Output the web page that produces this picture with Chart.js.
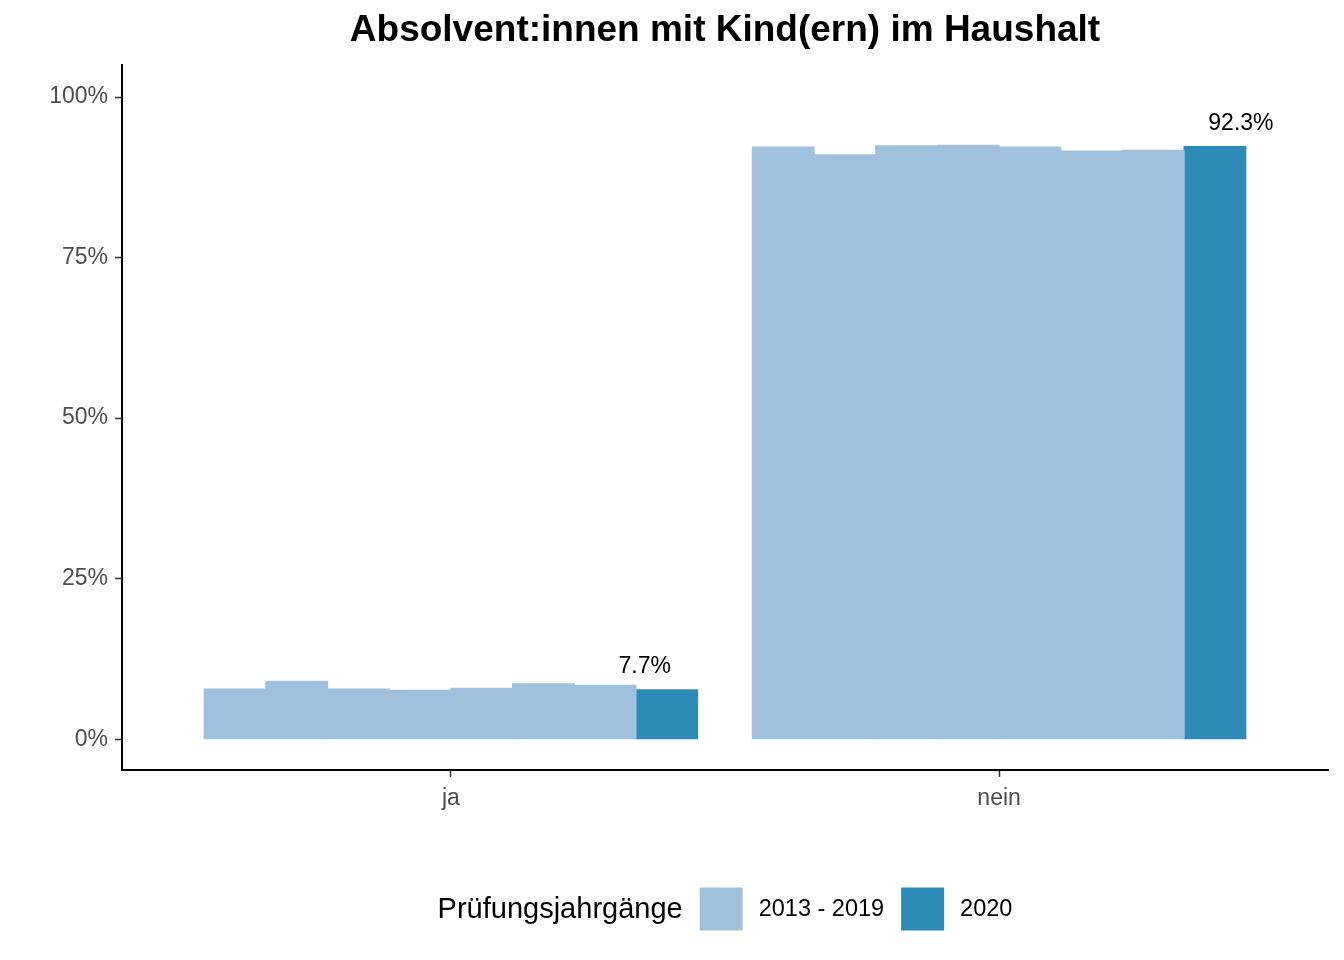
<!DOCTYPE html>
<html lang="de">
<head>
<meta charset="utf-8">
<title>Absolvent:innen mit Kind(ern) im Haushalt</title>
<script src="https://cdn.jsdelivr.net/npm/chart.js@4.4.1/dist/chart.umd.min.js"></script>
<style>
  html, body { margin: 0; padding: 0; background: #fff; }
  #wrap { width: 1344px; height: 960px; }
</style>
</head>
<body>
<div id="wrap"><canvas id="grafico"></canvas></div>
<script>
// Daten
const titel = "Absolvent:innen mit Kind(ern) im Haushalt";
const kategorien = ["ja", "nein"];
const jahrgaenge = ["2013", "2014", "2015", "2016", "2017", "2018", "2019", "2020"];
const anteilJa = [7.8, 9.0, 7.8, 7.6, 7.9, 8.6, 8.4, 7.7];
const anteilNein = [92.2, 91.0, 92.4, 92.5, 92.2, 91.6, 91.7, 92.3];
const yTicks = [0, 25, 50, 75, 100];
const legendeTitel = "Prüfungsjahrgänge";
const legendeEintraege = ["2013 - 2019", "2020"];

const farbeAlt = "#a0c1dd";
const farbeNeu = "#2e8bb8";
const schrift = '"Liberation Sans", Arial, Helvetica, sans-serif';

Chart.defaults.font.family = schrift;

const datasets = jahrgaenge.map((jahr, i) => ({
  label: jahr,
  data: kategorien.map((kat, k) => ({ x: k + 1, y: k === 0 ? anteilJa[i] : anteilNein[i] })),
  backgroundColor: jahr === "2020" ? farbeNeu : farbeAlt,
  borderWidth: 0,
  inflateAmount: 0.6,
  barPercentage: 1,
  categoryPercentage: 0.9
}));

// Titel, Wertlabels und Legende selbst zeichnen
const beschriftung = {
  id: "beschriftung",
  afterDraw(chart) {
    const { ctx, chartArea } = chart;
    const mitte = (chartArea.left + chartArea.right) / 2;
    ctx.save();
    ctx.fillStyle = "#000";
    ctx.textBaseline = "middle";

    ctx.font = `bold 37px ${schrift}`;
    ctx.textAlign = "center";
    ctx.fillText(titel, mitte, 31);

    // Wertlabels nur für 2020
    const letzter = jahrgaenge.length - 1;
    const meta = chart.getDatasetMeta(letzter);
    const versatz = [-22, 26];
    ctx.font = `23px ${schrift}`;
    meta.data.forEach((bar, k) => {
      const wert = chart.data.datasets[letzter].data[k].y;
      ctx.fillText(wert.toFixed(1) + "%", bar.x + versatz[k], bar.y - 23);
    });

    // Legende unten
    const y = 909;
    const box = 43;
    ctx.font = `29px ${schrift}`;
    const titelB = ctx.measureText(legendeTitel).width;
    ctx.font = `23.5px ${schrift}`;
    const b1 = ctx.measureText(legendeEintraege[0]).width;
    const b2 = ctx.measureText(legendeEintraege[1]).width;
    const gesamt = titelB + 17 + box + 16 + b1 + 17 + box + 16 + b2;
    let x = mitte - gesamt / 2;
    ctx.textAlign = "left";
    ctx.font = `29px ${schrift}`;
    ctx.fillText(legendeTitel, x, y + 1);
    x += titelB + 17;
    ctx.font = `23.5px ${schrift}`;
    [farbeAlt, farbeNeu].forEach((farbe, i) => {
      ctx.fillStyle = farbe;
      ctx.fillRect(x, y - box / 2, box, box);
      x += box + 16;
      ctx.fillStyle = "#000";
      ctx.fillText(legendeEintraege[i], x, y + 1);
      x += (i === 0 ? b1 : b2) + 17;
    });
    ctx.restore();
  }
};

const ctx = document.getElementById("grafico").getContext("2d");
new Chart(ctx, {
  type: "bar",
  data: { datasets },
  plugins: [beschriftung],
  options: {
    responsive: true,
    maintainAspectRatio: false,
    animation: false,
    layout: { padding: { top: 65, right: 16, bottom: 140, left: 0 } },
    plugins: {
      legend: { display: false },
      tooltip: { enabled: false },
      title: { display: false }
    },
    scales: {
      x: {
        type: "linear",
        min: 0.4,
        max: 2.6,
        offset: false,
        afterBuildTicks: (scale) => { scale.ticks = kategorien.map((k, i) => ({ value: i + 1 })); },
        afterFit: (scale) => { scale.height = 50; },
        ticks: {
          callback: (v) => kategorien[v - 1],
          color: "#4d4d4d",
          font: { size: 23 },
          padding: 8,
          maxRotation: 0
        },
        grid: { offset: false, drawOnChartArea: false, drawTicks: true, tickLength: 7, tickColor: "#333", tickWidth: 1.5 },
        border: { display: true, color: "#000", width: 2 }
      },
      y: {
        min: -4.8,
        max: 105,
        afterBuildTicks: (scale) => { scale.ticks = yTicks.map(v => ({ value: v })); },
        afterFit: (scale) => { scale.width = 122; },
        ticks: {
          callback: (v) => v + "%",
          color: "#4d4d4d",
          font: { size: 23 },
          padding: 7
        },
        grid: { drawOnChartArea: false, drawTicks: true, tickLength: 7, tickColor: "#333", tickWidth: 1.5 },
        border: { display: true, color: "#000", width: 2 }
      }
    }
  }
});
</script>
</body>
</html>
